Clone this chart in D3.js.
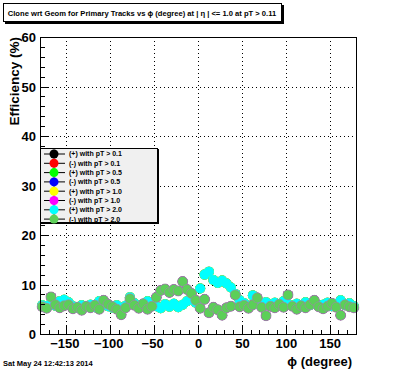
<!DOCTYPE html>
<html>
<head>
<meta charset="utf-8">
<script src="https://cdn.jsdelivr.net/npm/d3@7"></script>
<style>
  body { margin: 0; background: #fff; }
  svg { display: block; font-family: "Liberation Sans", Arial, sans-serif; }
</style>
</head>
<body>
<div id="chart"></div>
<script>
// phi bin centres (degree)
var phiBins = [-177.5, -172.5, -167.5, -162.5, -157.5, -152.5, -147.5, -142.5, -137.5, -132.5,
  -127.5, -122.5, -117.5, -112.5, -107.5, -102.5, -97.5, -92.5, -87.5, -82.5,
  -77.5, -72.5, -67.5, -62.5, -57.5, -52.5, -47.5, -42.5, -37.5, -32.5,
  -27.5, -22.5, -17.5, -12.5, -7.5, -2.5, 2.5, 7.5, 12.5, 17.5,
  22.5, 27.5, 32.5, 37.5, 42.5, 47.5, 52.5, 57.5, 62.5, 67.5,
  72.5, 77.5, 82.5, 87.5, 92.5, 97.5, 102.5, 107.5, 112.5, 117.5,
  122.5, 127.5, 132.5, 137.5, 142.5, 147.5, 152.5, 157.5, 162.5, 167.5,
  172.5, 177.5]

// efficiency (%) for positive tracks (cyan on top of the other (+) series)
var plusEff = [5.8, 5.6, 6.2, 5.7, 6.6, 6.9, 6.4, 5.6, 5.3, 5.8,
  5.5, 5.9, 5.4, 6.6, 6.2, 5.6, 5.3, 5.8, 5.2, 5.7,
  7.4, 6.2, 5.6, 5.8, 6.6, 6.3, 5.6, 5.2, 6.0, 5.5,
  6.1, 5.4, 5.9, 6.6, 7.0, 6.3, 9.2, 12.0, 12.6, 10.9,
  10.3, 10.8, 10.2, 9.4, 8.1, 6.8, 6.2, 5.7, 7.8, 6.1,
  5.6, 6.4, 5.9, 6.3, 5.8, 6.6, 6.0, 5.7, 6.1, 5.5,
  6.4, 5.8, 6.2, 5.7, 5.9, 6.3, 5.6, 6.0, 6.8, 5.8,
  6.2, 5.6]

// efficiency (%) for negative tracks (light green on top)
var minusEff = [5.5, 5.2, 7.5, 5.9, 5.3, 5.7, 5.9, 5.1, 5.4, 4.8,
  5.6, 5.3, 5.8, 5.0, 6.8, 6.0, 5.5, 5.0, 3.9, 5.3,
  7.1, 5.8, 5.2, 6.1, 5.0, 5.6, 7.4, 8.8, 9.1, 8.4,
  9.0, 8.7, 10.6, 9.0, 8.2, 6.8, 5.2, 7.0, 4.3, 5.4,
  4.9, 3.8, 5.3, 5.6, 7.9, 5.5, 5.8, 5.2, 5.9, 7.3,
  5.4, 3.7, 5.6, 5.3, 6.0, 5.4, 7.9, 5.6, 5.0, 5.7,
  5.3, 5.9, 6.8, 5.5, 5.1, 5.6, 6.2, 5.4, 3.8, 5.9,
  5.5, 5.3]

var seriesNames = ["(+) with pT > 0.1", "(-) with pT > 0.1", "(+) with pT > 0.5", "(-) with pT > 0.5",
  "(+) with pT > 1.0", "(-) with pT > 1.0", "(+) with pT > 2.0", "(-) with pT > 2.0"]
var seriesColors = ["#000000", "#ff0000", "#00ff00", "#0000ff", "#ffff00", "#ff00ff", "#00ffff", "#5ccf58"]
var seriesData = [plusEff, minusEff, plusEff, minusEff, plusEff, minusEff, plusEff, minusEff]

var yMajor = [0, 10, 20, 30, 40, 50, 60]
var xMajor = [-150, -100, -50, 0, 50, 100, 150]

var width = 396, height = 372
var svg = d3.select("#chart").append("svg")
  .attr("width", width)
  .attr("height", height)

svg.append("rect").attr("width", width).attr("height", height).attr("fill", "#fff")

var x = d3.scaleLinear().domain([-180, 180]).range([40, 356])
var y = d3.scaleLinear().domain([0, 60]).range([334, 37])

// grid (dotted)
svg.append("g")
  .selectAll("line")
  .data(xMajor)
  .enter().append("line")
    .attr("x1", function (d) { return Math.round(x(d)) + 0.5 }).attr("x2", function (d) { return Math.round(x(d)) + 0.5 })
    .attr("y1", y(60)).attr("y2", y(0))
    .attr("stroke", "#000").attr("stroke-width", 1).attr("stroke-dasharray", "1,3")
svg.append("g")
  .selectAll("line")
  .data(yMajor.filter(function (d) { return d > 0 && d < 60 }))
  .enter().append("line")
    .attr("x1", x(-180)).attr("x2", x(180))
    .attr("y1", function (d) { return Math.round(y(d)) + 0.5 }).attr("y2", function (d) { return Math.round(y(d)) + 0.5 })
    .attr("stroke", "#000").attr("stroke-width", 1).attr("stroke-dasharray", "1,3")

// markers
var markers = svg.append("g")
seriesData.forEach(function (vals, s) {
  markers.append("g")
    .selectAll("circle")
    .data(vals)
    .enter().append("circle")
      .attr("cx", function (d, i) { return x(phiBins[i]) })
      .attr("cy", function (d) { return y(d) })
      .attr("r", 5)
      .attr("fill", seriesColors[s])
      .attr("stroke", s == 7 ? "#9c88a6" : "none")
      .attr("stroke-width", 0.7)
})

// axes
var yAxis = svg.append("g").attr("transform", "translate(40,0)")
  .call(d3.axisLeft(y).tickValues(yMajor).tickSize(-9).tickPadding(4).tickFormat(d3.format("d")))
var yMinor = svg.append("g").attr("transform", "translate(40,0)")
  .call(d3.axisLeft(y).tickValues(d3.range(0, 61, 2)).tickSize(-5).tickFormat(""))
var xAxis = svg.append("g").attr("transform", "translate(0,334)")
  .call(d3.axisBottom(x).tickValues(xMajor).tickSize(-9).tickPadding(5).tickFormat(d3.format("d")))
var xMinor = svg.append("g").attr("transform", "translate(0,334)")
  .call(d3.axisBottom(x).tickValues(d3.range(-180, 181, 10)).tickSize(-4.5).tickFormat(""))

svg.selectAll(".domain").remove()
svg.selectAll(".tick line").attr("stroke", "#000").attr("shape-rendering", "crispEdges")
svg.selectAll(".tick text")
  .attr("fill", "#000")
  .style("font-family", "'Liberation Sans', Arial, sans-serif")
  .style("font-weight", "bold")
  .style("font-size", "13px")
xAxis.selectAll(".tick text").attr("dx", function (d) { return d < 0 ? -2 : 0 })
yAxis.selectAll(".tick text").attr("dy", "0.36em")

// frame
svg.append("rect")
  .attr("x", 40.5).attr("y", 37.5)
  .attr("width", 316).attr("height", 297)
  .attr("fill", "none").attr("stroke", "#000").attr("stroke-width", 1)

// axis titles
svg.append("text")
  .attr("transform", "translate(19,37) rotate(-90)")
  .attr("text-anchor", "end")
  .style("font-weight", "bold").style("font-size", "13.5px")
  .text("Efficiency (%)")
svg.append("text")
  .attr("x", 352).attr("y", 366)
  .attr("text-anchor", "end")
  .style("font-weight", "bold").style("font-size", "13px")
  .text("ϕ (degree)")

// title box
svg.append("rect").attr("x", 5).attr("y", 5).attr("width", 279).attr("height", 19).attr("fill", "#000")
svg.append("rect").attr("x", 3.5).attr("y", 3.5).attr("width", 278).attr("height", 18)
  .attr("fill", "#fff").attr("stroke", "#000").attr("stroke-width", 1)
svg.append("text")
  .attr("x", 142).attr("y", 16)
  .attr("text-anchor", "middle")
  .style("font-weight", "bold").style("font-size", "7.6px")
  .text("Clone wrt Geom for Primary Tracks vs ϕ (degree) at |  η | <= 1.0 at pT > 0.11")

// legend
var legend = svg.append("g")
legend.append("rect").attr("x", 41).attr("y", 149).attr("width", 118).attr("height", 75).attr("fill", "#000")
legend.append("rect").attr("x", 40.5).attr("y", 148.5).attr("width", 117).attr("height", 74)
  .attr("fill", "#f0f0f0").attr("stroke", "#000").attr("stroke-width", 1)
var rows = legend.selectAll("g.row")
  .data(seriesNames)
  .enter().append("g")
    .attr("class", "row")
    .attr("transform", function (d, i) { return "translate(0," + (154 + i * 9.3) + ")" })
rows.append("line").attr("x1", 44).attr("x2", 65).attr("y1", 0).attr("y2", 0)
  .attr("stroke", "#000").attr("stroke-width", 1)
rows.append("line").attr("x1", 54).attr("x2", 54).attr("y1", -4.5).attr("y2", 4.5)
  .attr("stroke", "#000").attr("stroke-width", 1)
rows.append("circle").attr("cx", 54).attr("cy", 0).attr("r", 4.5)
  .attr("fill", function (d, i) { return seriesColors[i] })
rows.append("text")
  .attr("x", 69).attr("y", 0).attr("dy", "0.35em")
  .style("font-weight", "bold").style("font-size", "7px")
  .text(function (d) { return d })

// date stamp
svg.append("text")
  .attr("x", 3).attr("y", 366)
  .style("font-size", "7.5px").style("font-weight", "bold")
  .text("Sat May 24 12:42:13 2014")
</script>
</body>
</html>
